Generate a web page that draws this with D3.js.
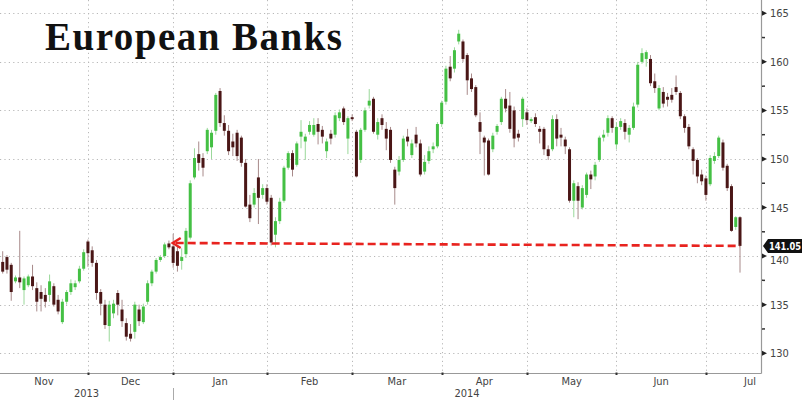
<!DOCTYPE html>
<html><head><meta charset="utf-8">
<script src="https://cdn.jsdelivr.net/npm/d3@7"></script>
<style>
html,body{margin:0;padding:0;background:#fff;}
svg{display:block;}
</style></head><body>
<svg id="chart" width="806" height="400"></svg>
<script>
const title = "European Banks";
const startDate = "2013-11-01";
const endDate = "2014-07-10";
const holidays = ["2013-12-25","2013-12-26","2014-01-01","2014-04-18","2014-04-21","2014-05-01"];

const open = [139.4,139.9,139.1,137.4,137.8,136.5,137.0,137.9,136.7,136.3,136.0,136.0,136.9,135.5,133.2,135.3,136.3,136.8,137.4,138.7,
141.5,140.6,139.3,136.3,135.0,132.8,134.1,136.2,134.5,133.1,132.0,132.2,134.5,133.2,135.3,137.2,138.4,139.6,140.0,141.3,
141.0,140.5,139.5,140.2,141.9,148.1,150.5,150.1,150.8,151.2,152.9,157.0,153.7,152.9,151.8,152.7,152.2,149.6,145.3,145.3,
148.1,146.3,147.0,146.0,142.2,143.6,145.7,149.1,150.6,149.4,152.3,151.8,152.8,152.5,153.6,153.0,150.8,152.6,152.5,154.2,
155.2,152.1,154.3,152.8,149.9,153.0,155.5,156.2,152.5,154.2,153.1,153.0,148.9,148.7,149.9,152.3,150.4,152.5,151.6,148.7,
149.8,151.0,151.3,153.6,155.9,159.5,159.3,162.1,162.1,160.7,158.3,157.4,153.8,152.2,151.9,151.0,152.8,153.8,156.2,155.5,
155.0,152.6,154.1,154.8,153.9,154.3,153.1,153.1,151.0,151.0,154.1,152.5,152.0,151.0,145.7,147.2,145.0,146.3,148.4,148.2,
149.9,152.2,152.7,154.2,151.5,153.3,153.7,152.5,153.2,155.6,160.0,160.3,160.3,158.0,155.2,156.9,156.4,156.6,157.4,156.8,
154.4,153.3,151.0,149.9,148.4,148.0,147.4,149.8,150.3,151.7,149.3,147.2,143.0,144.0];
const high = [140.5,140.1,139.3,138.0,142.6,137.9,138.1,139.1,137.3,137.0,136.7,138.1,137.2,136.0,135.6,136.5,137.6,137.5,139.0,140.7,
141.7,141.0,139.6,136.6,135.5,135.4,135.5,136.5,135.5,133.6,133.0,135.3,135.0,135.1,137.5,138.6,139.8,140.1,141.4,141.6,
142.3,141.0,140.8,142.9,147.8,151.1,151.8,150.6,153.2,153.0,156.8,157.3,154.5,153.5,152.6,153.0,152.4,150.0,146.3,147.0,
150.0,147.4,147.4,146.3,144.0,146.0,149.3,150.8,150.9,151.8,154.0,152.6,153.9,154.2,154.2,153.4,152.1,153.0,154.8,155.1,
155.4,154.4,154.6,153.0,153.2,155.3,157.2,156.4,154.2,154.6,153.8,153.3,149.2,150.3,152.4,153.1,152.0,153.3,152.0,150.4,
151.3,151.7,153.8,156.0,159.6,160.6,161.5,163.3,162.3,160.9,158.8,157.6,154.8,152.4,152.1,152.7,153.6,156.4,157.2,156.9,
155.4,153.0,156.4,155.2,154.3,154.7,153.4,153.3,151.4,154.5,154.6,153.2,152.3,151.2,147.8,147.6,147.3,148.6,148.8,149.7,
152.4,153.0,154.5,154.4,153.8,154.2,154.1,153.5,155.8,160.0,161.4,161.2,160.7,158.8,157.6,157.4,156.8,157.3,158.6,157.0,
154.6,153.6,151.2,150.1,148.9,148.3,150.4,150.7,152.4,152.0,149.5,147.4,144.1,144.1];
const low = [138.2,138.2,135.4,137.2,136.7,135.0,136.8,136.5,134.3,134.3,134.7,135.3,134.8,134.0,133.0,135.0,136.0,136.5,137.2,138.5,
138.9,138.9,135.5,133.9,132.5,131.2,133.6,133.9,132.7,131.3,131.2,131.5,132.8,133.0,135.0,136.9,138.2,139.4,139.8,140.7,
138.8,138.4,138.6,139.8,141.7,147.9,148.8,148.2,150.5,150.0,152.5,153.3,152.4,150.4,150.3,149.8,149.2,145.0,143.5,145.0,
143.3,145.9,145.3,141.1,140.9,143.3,145.5,148.9,148.2,149.2,151.1,149.9,152.5,152.3,151.5,151.6,150.1,151.5,152.2,153.9,
153.5,150.5,153.9,148.1,149.6,152.8,155.2,152.6,152.0,153.0,150.9,149.6,145.3,148.3,149.7,151.3,150.1,151.2,148.2,148.4,
149.5,150.6,151.1,153.3,155.6,158.0,158.9,161.8,160.0,156.6,156.9,154.3,150.5,148.3,148.3,150.7,152.5,153.5,154.8,152.7,
151.2,151.8,153.3,153.5,153.7,153.3,151.6,150.4,149.9,150.8,151.3,151.3,150.5,145.5,144.0,143.8,144.8,146.0,146.9,147.8,
149.7,151.8,152.3,152.7,151.0,153.0,152.0,151.7,153.0,155.3,159.8,159.5,157.5,156.8,155.0,155.3,155.4,155.8,156.6,154.1,
152.7,151.0,148.4,147.5,147.3,145.7,147.2,149.5,150.1,148.8,146.7,142.5,142.7,138.3];
const close = [138.4,138.6,136.3,137.8,137.3,137.7,137.9,136.9,135.3,135.6,135.3,137.4,135.0,134.3,135.3,136.3,137.2,137.2,138.7,140.4,
140.3,139.3,136.2,135.1,132.9,135.0,135.1,135.0,133.3,131.7,131.5,135.0,133.3,134.8,137.2,138.4,139.6,139.9,141.2,140.9,
139.3,139.0,139.9,142.6,147.5,150.1,149.6,149.1,153.0,152.7,156.6,153.7,152.9,150.8,151.2,150.3,149.6,145.1,143.9,146.5,
146.0,147.0,145.6,141.4,143.6,145.6,149.1,150.6,148.9,151.6,152.8,152.3,153.5,153.5,152.8,152.3,151.8,152.1,154.5,154.8,
153.8,154.2,154.1,148.2,153.0,155.0,156.0,152.8,153.8,153.5,152.1,149.9,147.0,149.9,152.1,151.8,151.6,151.6,148.4,149.7,
150.8,151.3,153.6,155.8,159.3,158.3,161.2,162.9,160.3,158.1,157.2,154.5,152.8,151.7,148.4,152.4,153.4,156.2,155.2,153.1,
152.1,152.2,156.2,154.0,154.1,153.6,152.8,151.0,150.3,154.1,152.1,152.2,151.3,145.7,147.5,145.7,147.0,148.4,147.9,149.4,
152.2,152.5,154.2,153.2,153.3,153.9,152.8,153.2,155.4,159.7,160.9,161.0,157.8,157.3,157.3,155.7,156.1,156.1,156.9,154.4,
153.2,151.3,149.8,148.2,147.7,146.3,150.1,150.3,152.2,149.1,147.0,142.6,144.0,141.05];

const yTicks = [130,135,140,145,150,155,160,165];
const yMinorTicks = [127.5,132.5,137.5,142.5,147.5,152.5,157.5,162.5];
const lastPrice = 141.05;
const arrowStartPrice = 141.35;

// ---------- layout ----------
const W = 806, H = 400;
const axisRight = 761, axisBottom = 373;
const svg = d3.select("#chart");

// trading-day calendar
const parse = d3.utcParse("%Y-%m-%d");
const fmt = d3.utcFormat("%Y-%m-%d");
const dates = d3.utcDay.range(parse(startDate), d3.utcDay.offset(parse(endDate), 1))
  .filter(d => d.getUTCDay() !== 0 && d.getUTCDay() !== 6 && !holidays.includes(fmt(d)));
const n = dates.length;

const x = d3.scaleLinear().domain([0, n - 1]).range([2.7, 740]);
const y = d3.scaleLinear().domain([130, 165]).range([353.2, 13.3]);
const step = x(1) - x(0);

// month boundaries
const monthStarts = [];
dates.forEach((d, i) => {
  if (i === 0 || d.getUTCMonth() !== dates[i - 1].getUTCMonth()) monthStarts.push(i);
});
const tickIdx = monthStarts.slice(1).map(i => i - 1);
const tickX = tickIdx.map(i => x(i));

// grid
const grid = svg.append("g").attr("stroke", "#b8b8b8").attr("stroke-width", 1).attr("stroke-dasharray", "1.2,3.2");
grid.selectAll("line.h").data(yTicks).join("line")
  .attr("x1", 0).attr("x2", axisRight).attr("y1", d => Math.round(y(d)) + 0.5).attr("y2", d => Math.round(y(d)) + 0.5);
grid.selectAll("line.v").data(tickX).join("line")
  .attr("x1", d => Math.round(d) + 0.5).attr("x2", d => Math.round(d) + 0.5).attr("y1", 0).attr("y2", axisBottom);

// title
const t = svg.append("text").attr("x", 45).attr("y", 50)
  .attr("font-family", "'Liberation Serif','DejaVu Serif',serif").attr("font-weight", "bold")
  .attr("font-size", 39).attr("fill", "#111").text(title);
const tw = t.node().getComputedTextLength();
if (tw < 297) t.attr("textLength", 297).attr("lengthAdjust", "spacing");

// candles
const data = dates.map((d, i) => ({i, o: open[i], h: high[i], l: low[i], c: close[i]}));
const cg = svg.append("g");
cg.selectAll("line.wick").data(data).join("line")
  .attr("x1", d => x(d.i)).attr("x2", d => x(d.i))
  .attr("y1", d => y(d.h)).attr("y2", d => y(d.l))
  .attr("stroke", d => d.c >= d.o ? "#9ad89a" : "#a88a8a").attr("stroke-width", 1);
cg.selectAll("rect.body").data(data).join("rect")
  .attr("x", d => x(d.i) - 1.5).attr("width", 3)
  .attr("y", d => y(Math.max(d.o, d.c)))
  .attr("height", d => Math.max(1, Math.abs(y(d.o) - y(d.c))))
  .attr("fill", d => d.c >= d.o ? "#44c044" : "#4a1616");

// axes lines
svg.append("line").attr("x1", 0).attr("x2", axisRight + 0.5).attr("y1", axisBottom + 0.5).attr("y2", axisBottom + 0.5)
  .attr("stroke", "#999").attr("stroke-width", 1.2);
svg.append("line").attr("x1", axisRight + 0.5).attr("x2", axisRight + 0.5).attr("y1", 0).attr("y2", axisBottom + 0.5)
  .attr("stroke", "#999").attr("stroke-width", 1.2);

// right axis ticks & labels
const lab = "'Liberation Sans Narrow','DejaVu Sans Condensed','Liberation Sans',sans-serif";
svg.append("g").selectAll("path").data(yTicks).join("path")
  .attr("d", d => { const yy = y(d); return `M${axisRight+1},${yy-2.5}L${axisRight+6},${yy}L${axisRight+1},${yy+2.5}Z`; })
  .attr("fill", "#222");
svg.append("g").selectAll("line").data(yMinorTicks.filter(v => y(v) > 0 && y(v) < axisBottom)).join("line")
  .attr("x1", axisRight + 1).attr("x2", axisRight + 4).attr("y1", d => y(d)).attr("y2", d => y(d))
  .attr("stroke", "#333").attr("stroke-width", 1.5);
svg.append("g").selectAll("text").data(yTicks.filter(v => Math.abs(v - lastPrice) > 2)).join("text")
  .attr("x", axisRight + 9).attr("y", d => y(d) + 4)
  .attr("font-family", lab).attr("font-size", 11).attr("fill", "#444")
  .text(d => d);

// bottom axis ticks
svg.append("g").selectAll("rect").data(tickX).join("rect")
  .attr("x", d => Math.round(d) - 0.5).attr("y", axisBottom - 0.5).attr("width", 2).attr("height", 2.5).attr("fill", "#333");

// month labels
const monthFmt = d3.utcFormat("%b");
const bounds = [0].concat(tickX);
const monthLab = monthStarts.map((si, k) => {
  const a = bounds[k];
  const b = k + 1 < bounds.length ? bounds[k + 1] : a + 22 * step;
  return {name: monthFmt(dates[si]), xm: Math.min((a + b) / 2, axisRight - 11)};
});
svg.append("g").selectAll("text").data(monthLab).join("text")
  .attr("x", d => d.xm).attr("y", 385).attr("text-anchor", "middle")
  .attr("font-family", lab).attr("font-size", 11).attr("fill", "#444").text(d => d.name);

// year labels
const yearFmt = d3.utcFormat("%Y");
const yearStartTick = tickX[monthStarts.findIndex((si, k) => k > 0 && dates[si].getUTCMonth() === 0) - 1];
const yearLab = [
  {name: yearFmt(dates[0]), xm: yearStartTick / 2},
  {name: yearFmt(dates[n - 1]), xm: (yearStartTick + axisRight) / 2}
];
svg.append("g").selectAll("text").data(yearLab).join("text")
  .attr("x", d => d.xm).attr("y", 396.5).attr("text-anchor", "middle")
  .attr("font-family", lab).attr("font-size", 11).attr("fill", "#444").text(d => d.name);
svg.append("line").attr("x1", Math.round(yearStartTick) + 0.5).attr("x2", Math.round(yearStartTick) + 0.5)
  .attr("y1", 388).attr("y2", 400).attr("stroke", "#aaa");

// red dashed annotation
const ax0 = tickX[1] - 0.5, ax1 = x(n - 1);
svg.append("line").attr("x1", ax0 + 3).attr("x2", ax1).attr("y1", y(arrowStartPrice)).attr("y2", y(lastPrice))
  .attr("stroke", "#e8231f").attr("stroke-width", 2.6).attr("stroke-dasharray", "8,4");
svg.append("path")
  .attr("d", `M${ax0+8},${y(arrowStartPrice)-5}L${ax0},${y(arrowStartPrice)}L${ax0+8},${y(arrowStartPrice)+5}`)
  .attr("fill", "none").attr("stroke", "#e8231f").attr("stroke-width", 2.4);

// "140" label partly visible under the tag (as in the reference)
const ly = y(lastPrice);
svg.append("text").attr("x", axisRight + 9).attr("y", y(140) + 8)
  .attr("font-family", lab).attr("font-size", 11).attr("fill", "#444").text(140);

// last price tag
svg.append("path")
  .attr("d", `M${axisRight+2},${ly}L${axisRight+7},${ly-7}L${W-4},${ly-7}L${W-4},${ly+7}L${axisRight+7},${ly+7}Z`)
  .attr("fill", "#111");
const tagText = svg.append("text").attr("x", (axisRight + 7 + W - 4) / 2).attr("y", ly + 4)
  .attr("text-anchor", "middle")
  .attr("font-family", lab).attr("font-size", 10.5).attr("font-weight", "bold").attr("fill", "#fff")
  .text(lastPrice.toFixed(2));
const tagW = tagText.node().getComputedTextLength();
if (tagW > 32) tagText.attr("textLength", 32).attr("lengthAdjust", "spacingAndGlyphs");
</script>
</body></html>
